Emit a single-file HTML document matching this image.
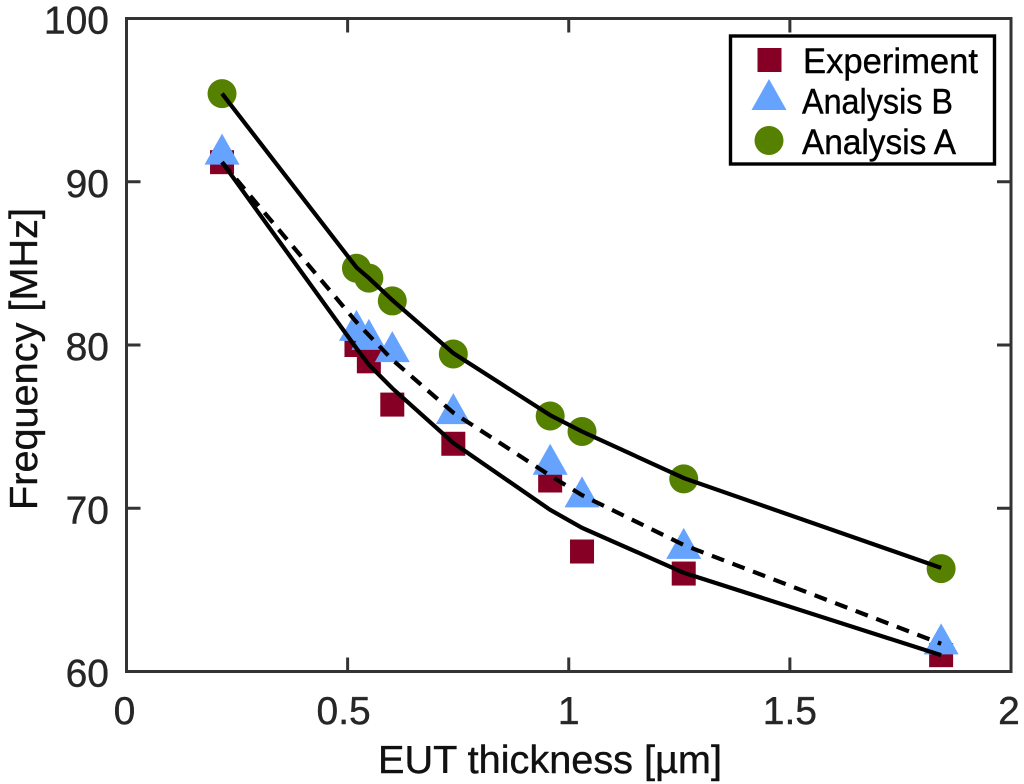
<!DOCTYPE html>
<html>
<head>
<meta charset="utf-8">
<title>Frequency vs EUT thickness</title>
<style>
html,body{margin:0;padding:0;background:#fff;width:1024px;height:784px;overflow:hidden}
svg{display:block}
text{font-family:"Liberation Sans",sans-serif}
</style>
</head>
<body>
<svg id="chart" xmlns="http://www.w3.org/2000/svg" width="1024" height="784" viewBox="0 0 1024 784">
<rect x="0" y="0" width="1024" height="784" fill="#ffffff"/>
<g id="marks"></g>
<g id="frame"></g>
<g id="labels"></g>
<text x="550" y="773" font-size="39" fill="#111" stroke="#111" stroke-width="0.4" text-anchor="middle" textLength="344" lengthAdjust="spacingAndGlyphs">EUT thickness [µm]</text>
<text transform="translate(37,359) rotate(-90)" font-size="39" fill="#111" stroke="#111" stroke-width="0.4" text-anchor="middle" textLength="302" lengthAdjust="spacingAndGlyphs">Frequency [MHz]</text>
<g>
<rect x="730.5" y="36" width="264" height="128" fill="#fff" stroke="#000" stroke-width="3.4"/>
<rect x="757.5" y="48" width="24" height="24" fill="#850024"/>
<polygon points="769,79 786.5,110 751.5,110" fill="#66a3ff"/>
<circle cx="769" cy="140.5" r="14.5" fill="#558000"/>
<text x="803" y="73" font-size="35" fill="#000" stroke="#000" stroke-width="0.4" textLength="175" lengthAdjust="spacingAndGlyphs">Experiment</text>
<text x="802" y="113.500" font-size="35" fill="#000" stroke="#000" stroke-width="0.4" textLength="151" lengthAdjust="spacingAndGlyphs">Analysis B</text>
<text x="802" y="154" font-size="35" fill="#000" stroke="#000" stroke-width="0.4" textLength="154" lengthAdjust="spacingAndGlyphs">Analysis A</text>
</g>
</svg>
<script>
var thickness = [0.216, 0.52, 0.548, 0.601, 0.739, 0.958, 1.03, 1.26, 1.842];
var experiment = [91.2, 80.0, 79.0, 76.35, 73.95, 71.7, 67.35, 66.0, 61.0];
var analysisB = [92.0, 81.2, 80.65, 79.9, 76.1, 73.0, 71.0, 67.85, 62.0];
var analysisA = [95.4, 84.7, 84.1, 82.7, 79.45, 75.65, 74.7, 71.8, 66.3];
var fitLower = [91.2, 79.8, 78.8, 77.35, 74.0, 69.9, 68.8, 66.05, 61.0];
var fitDashed = [91.2, 81.4, 80.6, 79.1, 75.85, 72.0, 70.8, 67.75, 61.7];
var fitUpper = [95.4, 84.75, 84.1, 82.75, 79.5, 75.7, 74.7, 71.85, 66.35];
var xTickValues = [0, 0.5, 1, 1.5, 2];
var xTickLabels = ['0', '0.5', '1', '1.5', '2'];
var yTickValues = [60, 70, 80, 90, 100];
var yTickLabels = ['60', '70', '80', '90', '100'];

var SVGNS = 'http://www.w3.org/2000/svg';
var plotLeft = 126.5, plotRight = 1011, plotTop = 18.5, plotBottom = 671.5;
function xScale(v){ return plotLeft + (v - 0) / (2 - 0) * (plotRight - plotLeft); }
function yScale(v){ return plotBottom - (v - 60) / (100 - 60) * (plotBottom - plotTop); }
function make(tag, parent){
  var el = document.createElementNS(SVGNS, tag);
  parent.appendChild(el);
  return el;
}
var marks = document.getElementById('marks');
var frame = document.getElementById('frame');
var labels = document.getElementById('labels');

thickness.forEach(function(t, i){
  var el = make('rect', marks);
  
  
  el.setAttribute('x', xScale(t) - 12);
  el.setAttribute('y', yScale(experiment[i]) - 12);
  el.setAttribute('width', 24);
  el.setAttribute('height', 24);
  el.setAttribute('fill', '#850024');
});
thickness.forEach(function(t, i){
  var el = make('polygon', marks);
  var cx = xScale(t), cy = yScale(analysisB[i]);
  
  
  el.setAttribute('points', cx + ',' + (cy - 15.5) + ' ' + (cx + 17.5) + ',' + (cy + 15.5) + ' ' + (cx - 17.5) + ',' + (cy + 15.5));
  el.setAttribute('fill', '#66a3ff');
});
thickness.forEach(function(t, i){
  var el = make('circle', marks);
  
  
  el.setAttribute('cx', xScale(t));
  el.setAttribute('cy', yScale(analysisA[i]));
  el.setAttribute('r', 14.5);
  el.setAttribute('fill', '#558000');
});
function linePoints(series){
  return series.map(function(v, i){ return xScale(thickness[i]) + ',' + yScale(v); }).join(' ');
}
var lowerLine = make('polyline', marks);


lowerLine.setAttribute('points', linePoints(fitLower));
lowerLine.setAttribute('fill', 'none');
lowerLine.setAttribute('stroke', '#000');
lowerLine.setAttribute('stroke-width', '4.2');
var dashedLine = make('polyline', marks);


dashedLine.setAttribute('points', linePoints(fitDashed));
dashedLine.setAttribute('fill', 'none');
dashedLine.setAttribute('stroke', '#000');
dashedLine.setAttribute('stroke-width', '4.2');
dashedLine.setAttribute('stroke-dasharray', '13 9');
var upperLine = make('polyline', marks);


upperLine.setAttribute('points', linePoints(fitUpper));
upperLine.setAttribute('fill', 'none');
upperLine.setAttribute('stroke', '#000');
upperLine.setAttribute('stroke-width', '4.2');

var box = make('rect', frame);


box.setAttribute('x', plotLeft);
box.setAttribute('y', plotTop);
box.setAttribute('width', plotRight - plotLeft);
box.setAttribute('height', plotBottom - plotTop);
box.setAttribute('fill', 'none');
box.setAttribute('stroke', '#333');
box.setAttribute('stroke-width', '3');

function tick(x1, y1, x2, y2, name){
  var el = make('line', frame);
  
  
  el.setAttribute('x1', x1);
  el.setAttribute('y1', y1);
  el.setAttribute('x2', x2);
  el.setAttribute('y2', y2);
  el.setAttribute('stroke', '#333');
  el.setAttribute('stroke-width', '3');
}
xTickValues.forEach(function(v, i){
  var x = xScale(v);
  tick(x, plotBottom, x, plotBottom - 14, 'x-tick');
  tick(x, plotTop, x, plotTop + 14, 'x-tick-top');
  var t = make('text', labels);
  
  
  t.setAttribute('x', x - (v === 0.5 ? 4 : 0) - (v === 0 ? 2 : 0) - (v === 2 ? 2 : 0));
  t.setAttribute('y', 724);
  t.setAttribute('font-size', '39');
  t.setAttribute('fill', '#262626');
  t.setAttribute('stroke', '#262626');
  t.setAttribute('stroke-width', '0.4');
  t.setAttribute('text-anchor', 'middle');
  t.textContent = xTickLabels[i];
});
yTickValues.forEach(function(v, i){
  var y = yScale(v);
  tick(plotLeft, y, plotLeft + 14, y, 'y-tick');
  tick(plotRight, y, plotRight - 14, y, 'y-tick-right');
  var t = make('text', labels);
  
  
  t.setAttribute('x', 109);
  t.setAttribute('y', y + 15);
  t.setAttribute('font-size', '39');
  t.setAttribute('fill', '#262626');
  t.setAttribute('stroke', '#262626');
  t.setAttribute('stroke-width', '0.4');
  t.setAttribute('text-anchor', 'end');
  t.textContent = yTickLabels[i];
});
</script>
</body>
</html>
